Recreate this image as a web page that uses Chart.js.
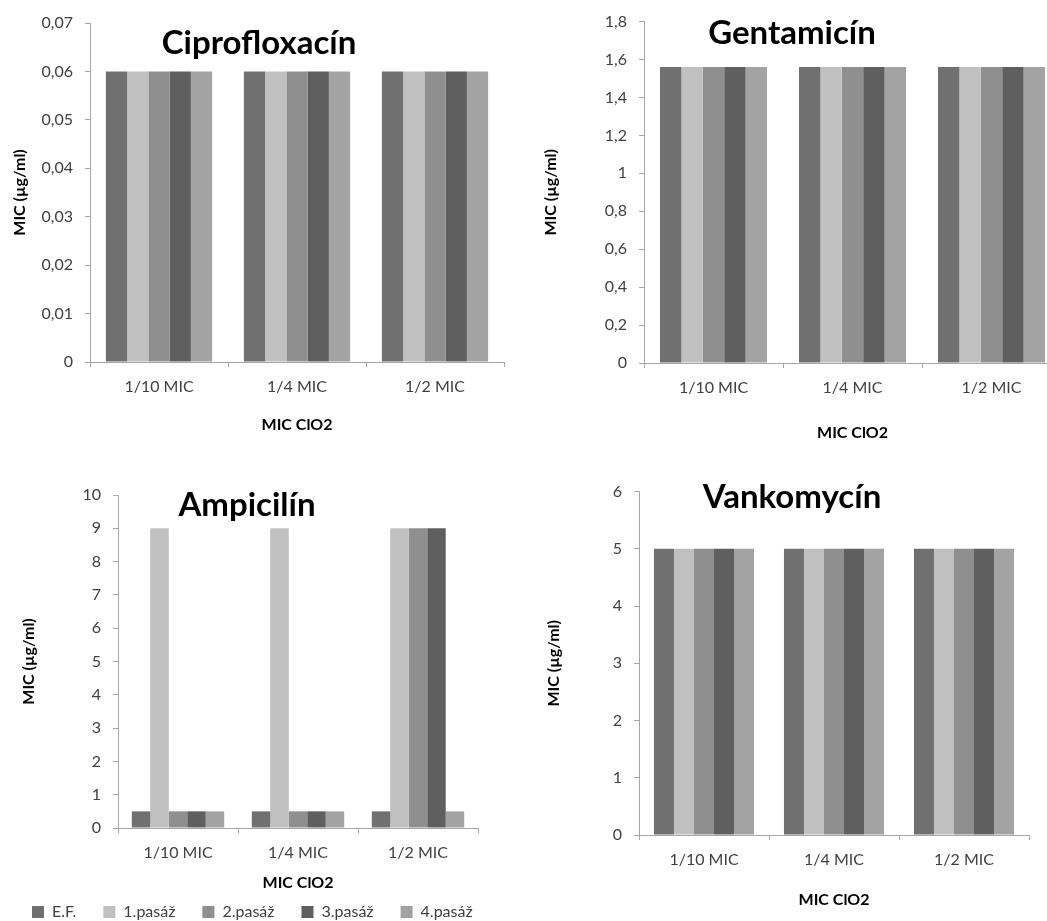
<!DOCTYPE html>
<html lang="sk">
<head>
<meta charset="UTF-8">
<title>MIC antibiotík po pasážach s ClO2</title>
<script src="https://cdn.jsdelivr.net/npm/chart.js"></script>
<style>
    html, body {
        margin: 0;
        padding: 0;
        background: #ffffff;
        overflow: hidden;
        width: 1047px;
        height: 921px;
    }
    .box {
        position: absolute;
    }
</style>
</head>
<body>
<div class="box" style="left:0px;top:0px"><canvas id="cipro" width="520" height="445"></canvas></div>
<div class="box" style="left:530px;top:0px"><canvas id="genta" width="545" height="455"></canvas></div>
<div class="box" style="left:0px;top:470px"><canvas id="ampi" width="540" height="460"></canvas></div>
<div class="box" style="left:530px;top:470px"><canvas id="vanko" width="515" height="451"></canvas></div>

<script>
// data
const categories = ['1/10 MIC', '1/4 MIC', '1/2 MIC'];
const seriesNames = ['E.F.', '1.pasáž', '2.pasáž', '3.pasáž', '4.pasáž'];

const cipro = [
    [0.06, 0.06, 0.06],
    [0.06, 0.06, 0.06],
    [0.06, 0.06, 0.06],
    [0.06, 0.06, 0.06],
    [0.06, 0.06, 0.06]
];
const genta = [
    [1.56, 1.56, 1.56],
    [1.56, 1.56, 1.56],
    [1.56, 1.56, 1.56],
    [1.56, 1.56, 1.56],
    [1.56, 1.56, 1.56]
];
const ampi = [
    [0.5, 0.5, 0.5],
    [9, 9, 9],
    [0.5, 0.5, 9],
    [0.5, 0.5, 9],
    [0.5, 0.5, 0.5]
];
const vanko = [
    [5, 5, 5],
    [5, 5, 5],
    [5, 5, 5],
    [5, 5, 5],
    [5, 5, 5]
];

const seriesColors = ['#707070', '#c0c0c0', '#8f8f8f', '#5f5f5f', '#a3a3a3'];

const yTitle = 'MIC (µg/ml)';
const xTitle = 'MIC ClO2';
const fontFam = 'Lato, "Open Sans", sans-serif';
const axisGray = '#a6a6a6';
const textCol = '#404040';

// nadpis grafu vnutri plochy
const chartHeading = {
    id: 'chartHeading',
    afterDatasetsDraw(chart, args, opts) {
        if (!opts.text) return;
        const ctx = chart.ctx;
        ctx.save();
        ctx.font = 'bold 33px ' + fontFam;
        ctx.fillStyle = '#000';
        ctx.textAlign = 'center';
        ctx.textBaseline = 'middle';
        ctx.fillText(opts.text, opts.x, opts.y);
        ctx.restore();
    }
};

function fmt(v) {
    return String(Math.round(v * 100) / 100).replace('.', ',');
}

function makeChart(id, values, o) {
    const datasets = values.map((vals, i) => ({
        label: seriesNames[i],
        data: vals,
        backgroundColor: seriesColors[i],
        borderWidth: 0,
        categoryPercentage: 0.77,
        barPercentage: 1.0
    }));

    const scales = {
        x: {
            grid: {
                drawOnChartArea: false,
                drawTicks: true,
                tickLength: 5,
                color: axisGray
            },
            border: { color: axisGray, width: 1 },
            ticks: {
                color: textCol,
                padding: 10,
                maxRotation: 0,
                font: { family: fontFam, size: 16 }
            },
            title: {
                display: true,
                text: xTitle,
                color: '#000',
                padding: { top: 0, bottom: o.xTitlePad },
                font: { family: fontFam, size: 16, weight: 'bold' }
            },
            afterFit(scale) { scale.height = o.xHeight; }
        },
        y: {
            min: 0,
            max: o.max,
            grid: {
                drawOnChartArea: false,
                drawTicks: true,
                tickLength: 5,
                color: axisGray
            },
            border: { color: axisGray, width: 1 },
            ticks: {
                stepSize: o.step,
                color: textCol,
                padding: 12,
                font: { family: fontFam, size: 16 },
                callback: fmt
            },
            title: {
                display: true,
                text: yTitle,
                color: '#000',
                padding: { top: o.yTitlePad, bottom: 0 },
                font: { family: fontFam, size: 16, weight: 'bold' }
            },
            afterFit(scale) { scale.width = o.yWidth; }
        }
    };

    // prazdne miesto vpravo (aby legenda mala celu sirku)
    if (o.rightGap) {
        scales.yGap = {
            position: 'right',
            grid: { display: false },
            border: { display: false },
            ticks: { display: false },
            afterFit(scale) { scale.width = o.rightGap; }
        };
    }

    return new Chart(document.getElementById(id), {
        type: 'bar',
        data: { labels: categories, datasets: datasets },
        options: {
            responsive: false,
            animation: false,
            layout: { padding: o.padding },
            plugins: {
                legend: o.legend ? {
                    display: true,
                    position: 'bottom',
                    align: 'start',
                    labels: {
                        boxWidth: 12,
                        boxHeight: 12,
                        padding: 27,
                        color: textCol,
                        font: { family: fontFam, size: 16 }
                    }
                } : { display: false },
                tooltip: { enabled: false },
                chartHeading: o.heading
            },
            scales: scales
        },
        plugins: [chartHeading]
    });
}

makeChart('cipro', cipro, {
    max: 0.07, step: 0.01,
    padding: { top: 23, right: 16, left: 0, bottom: 0 },
    yWidth: 90, xHeight: 83, xTitlePad: 10.4, yTitlePad: 10.4,
    heading: { text: 'Ciprofloxacín', x: 259, y: 43 }
});

makeChart('genta', genta, {
    max: 1.8, step: 0.2,
    padding: { top: 18, right: 14, left: 0, bottom: 0 },
    yWidth: 114, xHeight: 92, xTitlePad: 12.4, yTitlePad: 11.4,
    heading: { text: 'Gentamicín', x: 262, y: 33 }
});

makeChart('ampi', ampi, {
    max: 10, step: 1,
    padding: { top: 25, right: 0, left: 5, bottom: 0 },
    yWidth: 113, xHeight: 49, xTitlePad: -15.6, yTitlePad: 14.4,
    rightGap: 62,
    legend: true,
    heading: { text: 'Ampicilín', x: 247, y: 35 }
});

makeChart('vanko', vanko, {
    max: 6, step: 1,
    padding: { top: 15, right: 16, left: 0, bottom: 0 },
    yWidth: 109, xHeight: 86, xTitlePad: 11.4, yTitlePad: 14.4,
    heading: { text: 'Vankomycín', x: 262, y: 27 }
});
</script>
</body>
</html>
